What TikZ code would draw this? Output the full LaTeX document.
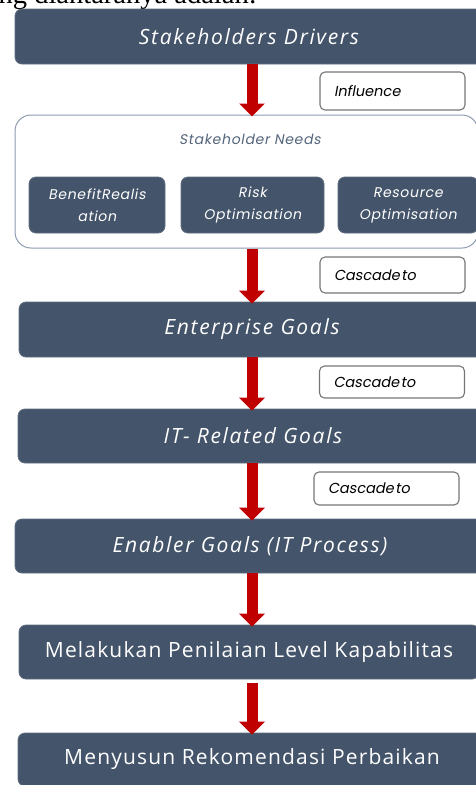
\documentclass[tikz,border=0pt]{standalone}
\usepackage{fontspec}
\setmainfont{Liberation Serif}
\newfontfamily\stagefont[LetterSpace=5.5]{Open Sans}
\newfontfamily\stageitfont[LetterSpace=8]{Open Sans}
\newfontfamily\needfont[FakeSlant=0.18,LetterSpace=5]{Poppins}
\newfontfamily\tagfont[FakeSlant=0.18]{Poppins}
\usetikzlibrary{arrows.meta}

\definecolor{slate}{HTML}{44546A}
\definecolor{flowred}{HTML}{C00000}
\definecolor{needsline}{HTML}{8C9BB0}
\definecolor{needstext}{HTML}{56667C}
\definecolor{tagline}{HTML}{767676}

\tikzset{
  stage/.style={draw=slate!85!white, line width=0.8pt, fill=slate, rounded corners=7pt,
    minimum width=468pt, minimum height=55pt, inner sep=0pt, text=white,
    font=\stagefont\fontsize{21}{25}\selectfont},
  stageit/.style={stage, font=\stageitfont\itshape\fontsize{21}{25}\selectfont},
  needbox/.style={draw=slate!85!white, line width=0.8pt, fill=slate, rounded corners=7pt,
    minimum height=56pt, inner sep=0pt, text=white, align=center,
    font=\needfont\fontsize{14}{22}\selectfont},
  tagbox/.style={draw=tagline, line width=1.1pt, fill=white, rounded corners=5pt,
    minimum width=145pt, inner xsep=14pt, inner ysep=0pt, text width=117pt, align=left,
    font=\tagfont\fontsize{14.5}{16}\selectfont},
  flow/.style={draw=flowred, line width=11pt,
    -{Triangle[width=25pt,length=13pt]}, shorten >=-2pt},
}

\begin{document}
\begin{tikzpicture}[x=1pt,y=-1pt]
\useasboundingbox (0,0) rectangle (476,785);
\clip (0,0) rectangle (476,785);

% leftover line of the surrounding text
\node[anchor=base west, inner sep=0pt, font=\fontsize{28.5}{33}\selectfont] (intro) at (-1.5,3.5) {ng diantaranya adalah:};

% main chain of stages
\node[stageit] (drivers) at (249,36.5) {Stakeholders Drivers};

\node[draw=needsline, line width=1pt, fill=white, rounded corners=16pt,
      minimum width=463pt, minimum height=133pt, inner sep=0pt] (needs) at (246.5,181.5) {};
\node[text=needstext, font=\needfont\fontsize{14}{16}\selectfont] (needstitle) at (250,139) {Stakeholder Needs};
\node[needbox, minimum width=136pt] (benefit) at (97,205) {BenefitRealis\\ation};
\node[needbox, minimum width=143pt] (risk) at (252.5,205) {Risk\\Optimisation};
\node[needbox, minimum width=140pt] (resource) at (408,205) {Resource\\Optimisation};

\node[stageit, minimum width=466pt] (enterprise) at (252,329.5) {Enterprise Goals};
\node[stageit, minimum width=470pt, minimum height=54pt] (itgoals) at (253,436) {IT- Related Goals};
\node[stageit, minimum width=470pt, minimum height=54pt] (enabler) at (250,546) {Enabler Goals (IT Process)};
\node[stage, minimum width=460pt, minimum height=54pt] (assess) at (249,652) {Melakukan Penilaian Level Kapabilitas};
\node[stage, minimum width=468pt, minimum height=53pt] (recommend) at (252,759.5) {Menyusun Rekomendasi Perbaikan};

% relation tags
\node[tagbox, minimum height=38pt] (influence) at (392.5,91) {Influence};
\node[tagbox, minimum height=36pt] (cascadeA) at (392.5,275) {Cascade\hspace{1.5pt}to};
\node[tagbox, minimum height=32pt] (cascadeB) at (392,382) {Cascade\hspace{1.5pt}to};
\node[tagbox, minimum height=33pt] (cascadeC) at (386.5,488.5) {Cascade\hspace{1.5pt}to};

% flow arrows
\coordinate (axis) at (252,0);
\draw[flow] (drivers.south -| axis) -- (needs.north -| axis);
\draw[flow] (needs.south -| axis) -- (enterprise.north -| axis);
\draw[flow] (enterprise.south -| axis) -- (itgoals.north -| axis);
\draw[flow] (itgoals.south -| axis) -- (enabler.north -| axis);
\draw[flow] (enabler.south -| axis) -- (assess.north -| axis);
\draw[flow, shorten <=4pt] (assess.south -| axis) -- (recommend.north -| axis);
\end{tikzpicture}
\end{document}
